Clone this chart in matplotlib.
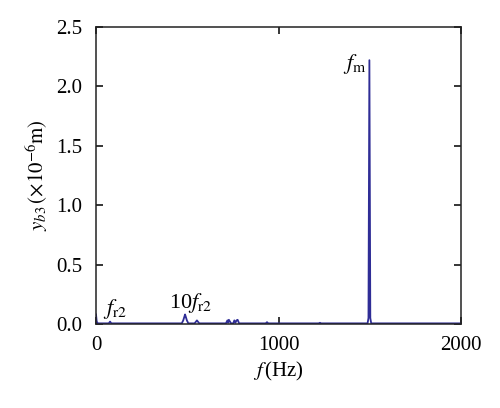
import matplotlib
matplotlib.use('Agg')
import matplotlib.pyplot as plt

plt.rcParams['font.family'] = 'Liberation Serif'
plt.rcParams['mathtext.fontset'] = 'stix'

# spectrum points (Hz, x1e-6 m)
freq = [0, 4, 10, 70, 77, 84, 470, 478, 484, 488, 492, 498, 506,
        540, 548, 553, 558, 566, 712, 720, 724, 728, 740, 752, 758,
        764, 770, 776, 784, 930, 937, 944, 1220, 1227, 1234,
        1488, 1493, 1498, 1503, 1508, 2000]
amp = [0.08, 0.02, 0.005, 0.005, 0.02, 0.005, 0.005, 0.03, 0.06, 0.08, 0.06, 0.03, 0.005,
       0.005, 0.02, 0.03, 0.02, 0.005, 0.005, 0.03, 0.01, 0.035, 0.005, 0.005, 0.03,
       0.01, 0.03, 0.035, 0.005, 0.005, 0.015, 0.005, 0.005, 0.01, 0.005,
       0.005, 0.05, 2.22, 0.05, 0.005, 0.005]

xticks = [0, 1000, 2000]
yticks = [0.0, 0.5, 1.0, 1.5, 2.0, 2.5]

fig = plt.figure(figsize=(5.0, 4.08), dpi=100)
ax = fig.add_axes([0.192, 0.206, 0.73, 0.728])

ax.plot(freq, amp, color='#2f2d96', lw=1.3)

ax.set_xlim(0, 2000)
ax.set_ylim(0, 2.5)
ax.set_xticks(xticks)
ax.set_yticks(yticks)
ax.set_yticklabels(['%.1f' % v for v in yticks])
ax.tick_params(direction='in', length=5, width=1.1, top=True, right=True,
               labelsize=15, colors='black')
ax.tick_params(axis='y', pad=10)
ax.tick_params(axis='x', pad=9)
for s in ax.spines.values():
    s.set_linewidth(1.1)
    s.set_color('#222222')

ax.set_xlabel(r'$f\,$(Hz)', fontsize=15, labelpad=3)
ax.set_ylabel(r'$y_{b3}\,(\times10^{-6}\mathrm{m})$', fontsize=15, labelpad=4)

ax.text(38, 0.08, r'$f_{\mathrm{r2}}$', fontsize=16, va='baseline')
ax.text(400, 0.135, r'10$f_{\mathrm{r2}}$', fontsize=16, va='baseline')
ax.text(1353, 2.15, r'$f_{\mathrm{m}}$', fontsize=16, va='baseline')

fig.savefig('out.png', dpi=100)
